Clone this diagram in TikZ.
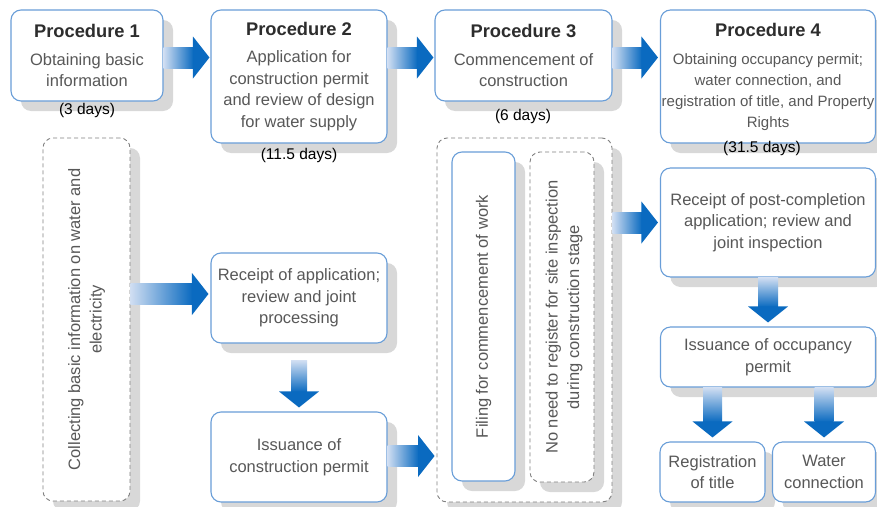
\documentclass[tikz,border=0pt]{standalone}
\usepackage{fontspec}
\setmainfont{Liberation Sans}
\usetikzlibrary{shadows,calc}
\definecolor{bblue}{RGB}{105,158,216}
\definecolor{tgray}{RGB}{88,88,88}
\definecolor{ttitle}{RGB}{45,45,45}
\definecolor{sgray}{RGB}{216,216,216}
\definecolor{dgray}{RGB}{128,128,128}
\definecolor{alight}{RGB}{208,222,242}
\definecolor{adark}{RGB}{10,106,192}
\tikzset{
  sh/.style={drop shadow={shadow xshift=10pt,shadow yshift=-10pt,fill=sgray,opacity=1}},
  bx/.style={sh, draw=bblue, line width=1.1pt, rounded corners=10pt, fill=white, align=center, text=tgray, font=\fontsize{16.5}{21.5}\selectfont, inner sep=0pt},
  pbx/.style={bx},
  dbx/.style={sh, draw=dgray, dash pattern=on 4pt off 3pt, line width=0.9pt, rounded corners=10pt, fill=white, inner sep=0pt},
  sbx/.style={sh, draw=bblue, line width=1.1pt, rounded corners=10pt, fill=white, inner sep=0pt},
  rlbl/.style={rotate=90, align=center, text=tgray, font=\fontsize{16.5}{21.5}\selectfont, inner sep=0pt},
  days/.style={text=black, font=\fontsize{15.5}{18}\selectfont, inner sep=0pt},
}
\newcommand\ttl[1]{{\fontsize{18.3}{21}\selectfont\bfseries\color{ttitle}#1}}
\newcommand\harr[2]{%
  \shade[left color=alight,right color=adark] let \p1=#1,\p2=#2 in (\x1,\y1-10.5pt) rectangle (\x2-16pt,\y1+10.5pt);
  \fill[adark] let \p1=#1,\p2=#2 in (\x2-16.5pt,\y1-21pt) -- (\x2,\y1) -- (\x2-16.5pt,\y1+21pt) -- cycle;}
\newcommand\varr[3]{%
  \shade[top color=alight,bottom color=adark] let \p1=#1,\p2=#2 in (\x1-#3,\y1) rectangle (\x1+#3,\y2+15.5pt);
  \fill[adark] let \p1=#1,\p2=#2 in (\x1-20pt,\y2+16pt) -- (\x1,\y2) -- (\x1+20pt,\y2+16pt) -- cycle;}
\begin{document}
\begin{tikzpicture}[x=1pt,y=-1pt]
\useasboundingbox[fill=white] (0,0) rectangle (877,506);
% top procedures
\node[pbx, minimum width=152pt, minimum height=91pt] (p1) at (87,55.5)
  {\ttl{Procedure 1}\\[6pt]Obtaining basic\\information};
\node[pbx, minimum width=176pt, minimum height=133pt] (p2) at (299,76.5)
  {\ttl{Procedure 2}\\[6pt]Application for\\construction permit\\and review of design\\for water supply};
\node[pbx, minimum width=177pt, minimum height=91pt] (p3) at (523.5,55.5)
  {\ttl{Procedure 3}\\[6pt]Commencement of\\construction};
\node[pbx, minimum width=215pt, minimum height=133pt, font=\fontsize{15}{21}\selectfont] (p4) at (768,76.5)
  {\ttl{Procedure 4}\\[7pt]Obtaining occupancy permit;\\water connection, and\\registration of title, and Property\\Rights};
% day labels
\node[days] (d1l) at (87,110) {(3 days)};
\node[days] (d2l) at (299,155) {(11.5 days)};
\node[days] (d3l) at (523,116) {(6 days)};
\node[days] (d4l) at (762,148) {(31.5 days)};
% column 1
\node[dbx, minimum width=87pt, minimum height=363pt] (c1) at (86.5,319.5) {};
\node[rlbl] (c1t) at (c1.center) {Collecting basic information on water and\\electricity};
% column 2
\node[bx, minimum width=176pt, minimum height=90pt] (rec) at (299,298)
  {Receipt of application;\\review and joint\\processing};
\node[bx, minimum width=176pt, minimum height=90pt] (iss) at (299,457)
  {Issuance of\\construction permit};
% column 3
\node[dbx, minimum width=175pt, minimum height=364pt] (c3) at (524.5,320) {};
\node[sbx, minimum width=63pt, minimum height=329pt] (fil) at (483.5,316.5) {};
\node[rlbl] (filt) at (fil.center) {Filing for commencement of work};
\node[dbx, minimum width=64pt, minimum height=330pt] (nn) at (562,317) {};
\node[rlbl] (nnt) at ($(nn.center)+(2,0)$) {No need to register for site inspection\\during construction stage};
% column 4
\node[bx, minimum width=215pt, minimum height=109pt] (post) at (768,222.5)
  {Receipt of post-completion\\application; review and\\joint inspection};
\node[bx, minimum width=215pt, minimum height=60pt] (occ) at (768,357)
  {Issuance of occupancy\\permit};
\node[bx, minimum width=105pt, minimum height=60pt] (reg) at (712.5,472)
  {Registration\\of title};
\node[bx, minimum width=103pt, minimum height=60pt] (wat) at (824,472)
  {Water\\connection};
% arrows
\harr{($(p1.east)+(0,2)$)}{($(p2.west)+(-1,0)$)}
\harr{($(p2.east|-p1.east)+(0,2)$)}{($(p3.west)+(-1,0)$)}
\harr{($(p3.east)+(0,2)$)}{($(p4.west)+(-2,0)$)}
\harr{($(c1.east|-rec.west)+(0,-4)$)}{($(rec.west)+(-2,0)$)}
\varr{($(rec.south)+(0,17)$)}{($(iss.north)+(0,-4)$)}{8pt}
\harr{($(iss.east)+(0,-1)$)}{($(c3.west)+(-2,0)$)}
\harr{(c3.east|-post.west)}{($(post.west)+(-2,0)$)}
\varr{(post.south)}{($(occ.north)+(0,-4)$)}{10pt}
\varr{(occ.south-|reg.north)}{($(reg.north)+(0,-4)$)}{9.5pt}
\varr{(occ.south-|wat.north)}{($(wat.north)+(0,-4)$)}{9.5pt}
\end{tikzpicture}
\end{document}
